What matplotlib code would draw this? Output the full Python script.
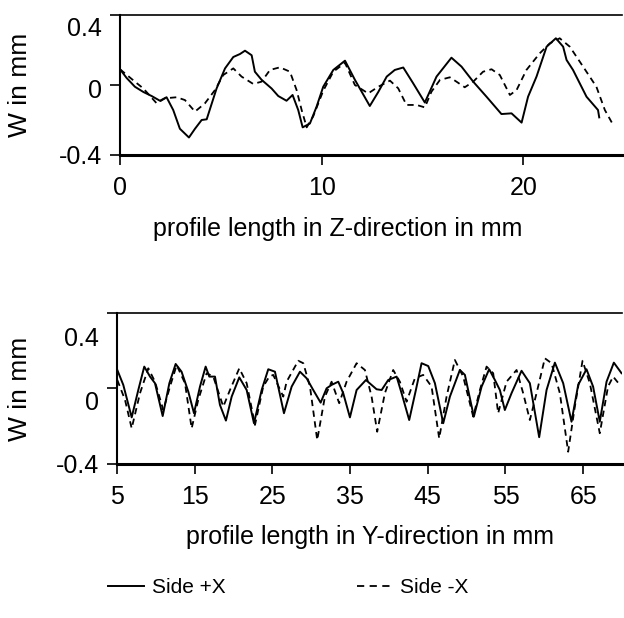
import matplotlib
matplotlib.use("Agg")
import matplotlib.pyplot as plt
import matplotlib.transforms as mtransforms
from matplotlib.lines import Line2D

plt.rcParams['font.family'] = ['Liberation Sans', 'DejaVu Sans']

# top chart: profile along Z, W in mm
z_plus_x = [0.0, 0.33, 0.74, 1.16, 1.57, 1.98, 2.31, 2.64, 2.97, 3.42, 3.72, 4.05, 4.30, 4.79,
            5.21, 5.62, 5.95, 6.20, 6.53, 6.69, 7.02, 7.52, 7.85, 8.26, 8.56, 8.84, 9.06, 9.42,
            9.75, 10.08, 10.58, 11.16, 11.65, 12.39, 12.81, 13.23, 13.63, 14.05, 14.54, 15.12,
            15.70, 16.44, 16.94, 17.52, 18.18, 18.92, 19.42, 19.92, 20.24, 20.66, 21.16, 21.62,
            21.98, 22.15, 22.47, 23.14, 23.71, 23.77]
z_plus_w = [0.09, 0.04, -0.01, -0.04, -0.063, -0.09, -0.07, -0.143, -0.25, -0.30, -0.25, -0.20,
            -0.196, -0.02, 0.095, 0.16, 0.177, 0.196, 0.17, 0.076, 0.03, -0.02, -0.063, -0.09,
            -0.057, -0.143, -0.242, -0.22, -0.124, -0.01, 0.086, 0.139, 0.03, -0.12, -0.04,
            0.048, 0.086, 0.10, 0.01, -0.10, 0.048, 0.156, 0.105, 0.019, -0.067, -0.166, -0.162,
            -0.215, -0.067, 0.048, 0.219, 0.267, 0.219, 0.143, 0.086, -0.067, -0.143, -0.185]

z_minus_x = [0.0, 0.74, 1.16, 1.82, 2.23, 2.81, 3.22, 3.72, 4.21, 4.71, 5.12, 5.62, 6.03, 6.61,
             7.02, 7.44, 7.93, 8.43, 8.76, 9.01, 9.26, 9.58, 10.08, 10.58, 11.16, 11.65, 12.31,
             12.81, 13.39, 13.80, 14.21, 14.71, 15.12, 15.45, 15.87, 16.36, 16.69, 17.10, 17.52,
             18.01, 18.43, 18.84, 19.34, 19.67, 20.16, 20.82, 21.32, 21.81, 22.31, 22.97, 23.63,
             24.05, 24.46]
z_minus_w = [0.09, 0.019, -0.02, -0.105, -0.076, -0.07, -0.086, -0.152, -0.105, -0.029, 0.057,
             0.095, 0.048, 0.006, 0.019, 0.086, 0.101, 0.076, -0.029, -0.143, -0.242, -0.18,
             -0.033, 0.076, 0.127, 0.0, -0.048, -0.01, 0.025, -0.019, -0.114, -0.114, -0.128,
             -0.038, 0.029, 0.044, 0.019, -0.013, 0.019, 0.076, 0.09, 0.057, -0.057, -0.029,
             0.086, 0.181, 0.238, 0.267, 0.219, 0.105, -0.01, -0.143, -0.228]

# bottom chart: profile along Y
y_plus_x = [5.04, 5.81, 6.89, 7.74, 8.51, 9.25, 9.89, 10.88, 11.74, 12.55, 13.31, 14.18, 14.91,
            15.68, 16.41, 16.88, 17.61, 18.25, 19.02, 19.76, 20.74, 21.69, 22.63, 23.62, 24.47,
            25.33, 26.49, 27.48, 28.55, 29.41, 30.26, 31.21, 31.98, 32.62, 33.48, 34.12, 34.98,
            35.84, 37.04, 38.41, 39.06, 39.91, 40.99, 41.63, 42.61, 43.47, 44.20, 45.06, 45.92,
            46.99, 47.85, 49.13, 49.78, 50.93, 51.93, 52.90, 53.64, 54.28, 54.92, 55.78, 57.07,
            58.14, 59.34, 60.29, 61.36, 62.43, 63.50, 64.36, 65.43, 66.28, 67.14, 68.01, 68.95,
            69.94]
y_plus_w = [0.098, 0.019, -0.153, -0.008, 0.116, 0.063, 0.028, -0.146, 0.028, 0.13, 0.089,
            -0.017, -0.131, 0.01, 0.116, 0.063, 0.063, -0.087, -0.17, -0.043, 0.059, -0.008,
            -0.184, -0.008, 0.102, 0.089, -0.131, 0.01, 0.089, 0.054, -0.008, -0.075, 0.001,
            0.019, 0.036, -0.025, -0.153, -0.008, 0.045, -0.004, -0.008, 0.045, 0.063, -0.025,
            -0.167, -0.008, 0.134, 0.119, 0.028, -0.184, -0.043, 0.098, 0.072, -0.149, 0.01,
            0.102, 0.045, -0.008, -0.114, -0.025, 0.094, 0.028, -0.258, -0.008, 0.137, 0.028,
            -0.176, 0.019, 0.102, 0.01, -0.176, 0.036, 0.137, 0.081]

y_minus_x = [5.04, 6.03, 6.89, 7.96, 9.03, 9.89, 10.96, 11.82, 12.68, 13.75, 14.61, 15.46, 16.54,
             17.39, 18.68, 19.54, 20.74, 21.69, 22.76, 23.82, 24.60, 25.11, 26.40, 26.83, 28.33,
             28.98, 29.84, 30.77, 31.76, 32.62, 33.60, 34.55, 35.84, 36.91, 37.77, 38.49, 39.48,
             40.55, 41.41, 42.27, 43.34, 44.41, 45.49, 46.47, 47.42, 48.49, 49.56, 50.85, 51.71,
             52.57, 53.42, 54.06, 55.14, 56.43, 57.28, 58.14, 59.00, 60.07, 60.93, 62.00, 63.07,
             63.93, 64.92, 65.86, 67.14, 68.20, 68.86, 69.72]
y_minus_w = [0.045, -0.06, -0.211, -0.025, 0.107, 0.036, -0.114, 0.01, 0.124, 0.028, -0.211,
             -0.06, 0.081, 0.063, -0.096, -0.008, 0.107, 0.028, -0.193, 0.01, 0.063, 0.072,
             -0.043, 0.036, 0.147, 0.134, 0.01, -0.273, -0.043, 0.036, -0.078, 0.036, 0.134,
             0.098, -0.043, -0.229, -0.025, 0.098, 0.036, -0.07, 0.054, 0.072, 0.01, -0.264,
             -0.043, 0.151, 0.063, -0.149, -0.008, 0.116, 0.081, -0.131, 0.036, 0.098, -0.025,
             -0.167, -0.025, 0.16, 0.134, -0.025, -0.335, -0.096, 0.147, 0.028, -0.237, 0.01,
             0.063, 0.019]

y_ticks = [-0.4, 0, 0.4]
y_ticklabels = ['-0.4', '0', '0.4']
z_ticks = [0, 10, 20]
y_dir_ticks = [5, 15, 25, 35, 45, 55, 65]

FS = 18
dash = (0, (3.5, 2.5))

fig = plt.figure(figsize=(6.24, 6.18), dpi=100)

ax1 = fig.add_axes([120 / 624, 1 - 155 / 618, 502 / 624, 140 / 618])
ax2 = fig.add_axes([117 / 624, 1 - 464 / 618, 505 / 624, 151 / 618])

ax1.plot(z_plus_x, z_plus_w, color='black', lw=1.4)
ax1.plot(z_minus_x, z_minus_w, color='black', lw=1.3, linestyle=dash)
ax1.set_xlim(0, 24.9)
ax1.set_xticks(z_ticks)

ax2.plot(y_plus_x, y_plus_w, color='black', lw=1.4)
ax2.plot(y_minus_x, y_minus_w, color='black', lw=1.3, linestyle=dash)
ax2.set_xlim(5, 70)
ax2.set_xticks(y_dir_ticks)

for ax in (ax1, ax2):
    ax.set_ylim(-0.4, 0.4)
    ax.set_yticks(y_ticks)
    ax.set_yticklabels(y_ticklabels)
    ax.spines['right'].set_visible(False)
    ax.spines['top'].set_linewidth(1.2)
    ax.spines['left'].set_linewidth(1.5)
    ax.spines['bottom'].set_linewidth(2.2)
    ax.tick_params(axis='both', direction='out', length=7, width=1.2, labelsize=FS)
    ax.tick_params(axis='x', pad=8)
    ax.tick_params(axis='y', pad=6)
    ax.set_ylabel('W in mm', fontsize=19, va='center')

ax1.set_xlabel('profile length in Z-direction in mm', fontsize=FS, va='center')
ax2.set_xlabel('profile length in Y-direction in mm', fontsize=FS, va='center')
ax1.xaxis.set_label_coords(0.434, -0.53)
ax2.xaxis.set_label_coords(0.50, -0.483)
ax1.yaxis.set_label_coords(-0.199, 0.5)
ax2.yaxis.set_label_coords(-0.192, 0.5)

handles = [Line2D([], [], color='black', lw=1.4),
           Line2D([], [], color='black', lw=1.3, linestyle=(0, (4, 3)))]
fig.legend(handles, ['Side +X', 'Side -X'], loc='center', ncol=2,
           bbox_to_anchor=(0.462, 0.049), frameon=False, fontsize=FS - 3,
           handlelength=1.73, handletextpad=0.35, columnspacing=6.3)

# the y tick labels sit a bit lower than their ticks in the original
shifts = {ax1: [0, -4, -11], ax2: [0, -12, -24]}
for ax, dys in shifts.items():
    for lab, dy in zip(ax.get_yticklabels(), dys):
        off = mtransforms.ScaledTranslation(0, dy / 100, fig.dpi_scale_trans)
        lab.set_transform(lab.get_transform() + off)

fig.savefig('out.png', dpi=100)
